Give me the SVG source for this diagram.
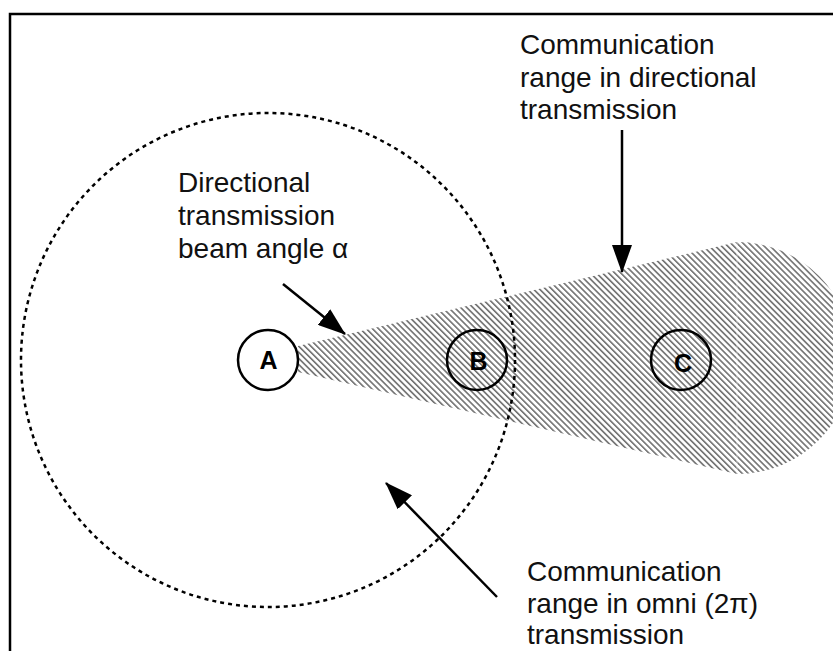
<svg xmlns="http://www.w3.org/2000/svg" width="833" height="651" viewBox="0 0 833 651">
  <style>
    .lbl { font-family: "Liberation Sans", Arial, sans-serif; font-size: 28px; fill: #111; }
    .node-ring { fill: none; stroke: #000; stroke-width: 2.5; }
    .node-txt { font-family: "Liberation Sans", Arial, sans-serif; font-size: 25px; font-weight: bold; fill: #000; text-anchor: middle; dominant-baseline: central; }
    .conn { stroke: #000; stroke-width: 2.5; fill: none; marker-end: url(#head); }
  </style>
  <defs>
    <pattern id="hatch" patternUnits="userSpaceOnUse" width="4.3" height="10" patternTransform="rotate(-45)">
      <rect x="0" y="0" width="1.6" height="10" fill="#707070"/>
    </pattern>
    <marker id="head" markerUnits="userSpaceOnUse" viewBox="0 0 28 20" refX="27" refY="10" markerWidth="28" markerHeight="20" orient="auto">
      <path d="M0,0 L28,10 L0,20 Z" fill="#000"/>
    </marker>
  </defs>

  <rect width="833" height="651" fill="#fff"/>
  <!-- frame (right and bottom edges fall outside the canvas) -->
  <rect x="10" y="14" width="850" height="670" fill="none" stroke="#000" stroke-width="2.5"/>

  <!-- directional beam -->
  <g id="beam">
    <path d="M298,346 L737,242 A116,116 0 0 1 737,474 L298,372 Z" fill="url(#hatch)"/>
    <line x1="737" y1="242" x2="737" y2="474" stroke="#fff" stroke-width="0.8" opacity="0.7"/>
  </g>

  <!-- omni range -->
  <g id="omni-range">
    <circle cx="268" cy="360" r="247" fill="none" stroke="#000" stroke-width="2.5" stroke-dasharray="4 4"/>
  </g>

  <g id="node-a">
    <circle cx="268" cy="360" r="30" fill="#fff" class="node-ring"/>
    <text x="268.5" y="360" class="node-txt">A</text>
  </g>
  <g id="node-b">
    <circle cx="477" cy="360" r="30" class="node-ring"/>
    <text x="478.5" y="361" class="node-txt">B</text>
  </g>
  <g id="node-c">
    <circle cx="681" cy="360" r="30" class="node-ring"/>
    <text x="683" y="363" class="node-txt">C</text>
  </g>

  <g id="connectors">
    <line x1="283" y1="284" x2="345" y2="334" class="conn"/>
    <line x1="622" y1="130" x2="622" y2="272" class="conn"/>
    <line x1="497" y1="597" x2="386" y2="483" class="conn"/>
  </g>

  <g id="label-beam-angle">
    <text class="lbl" x="178" y="192">Directional</text>
    <text class="lbl" x="178" y="225">transmission</text>
    <text class="lbl" x="178" y="258">beam angle α</text>
  </g>
  <g id="label-directional-range">
    <text class="lbl" x="520" y="54">Communication</text>
    <text class="lbl" x="520" y="87">range in directional</text>
    <text class="lbl" x="520" y="119">transmission</text>
  </g>
  <g id="label-omni-range">
    <text class="lbl" x="527" y="581">Communication</text>
    <text class="lbl" x="527" y="613">range in omni (2π)</text>
    <text class="lbl" x="527" y="644">transmission</text>
  </g>
</svg>
